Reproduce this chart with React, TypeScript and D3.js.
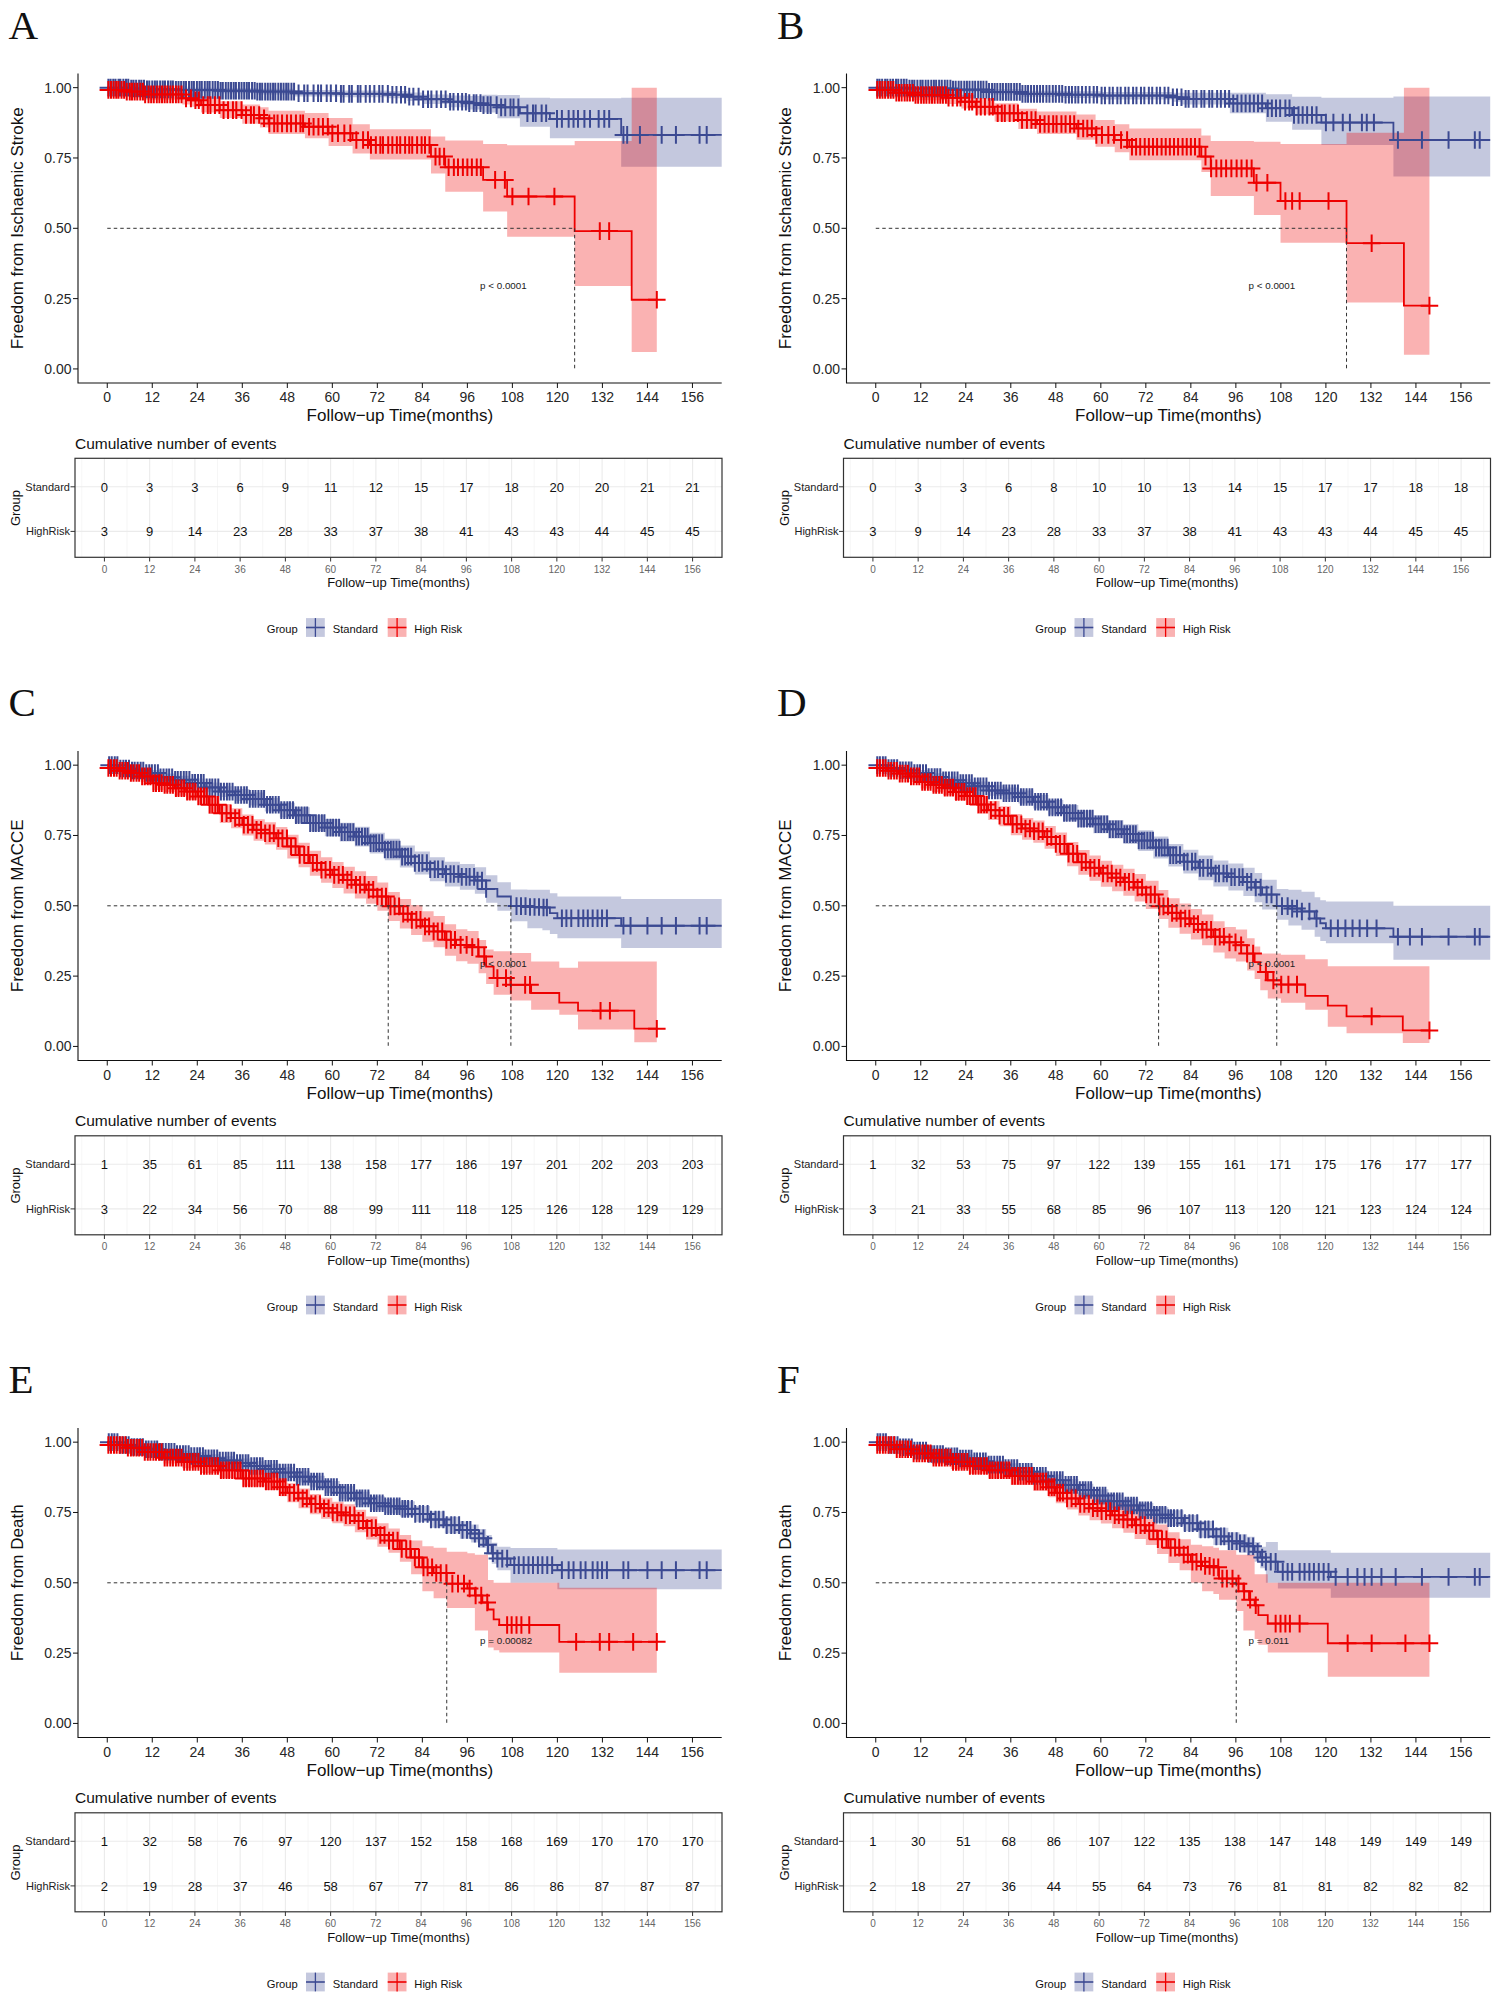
import * as d3 from 'd3';

const FONT = '"Liberation Sans", Arial, Helvetica, sans-serif';
const SERIF = '"Liberation Serif", "Times New Roman", serif';
const BLUE = '#3B4992';
const RED = '#EE0000';

const groupNames = ['Standard', 'High Risk'];
const tableRows = ['Standard', 'HighRisk'];
const xTicks = [0, 12, 24, 36, 48, 60, 72, 84, 96, 108, 120, 132, 144, 156];
const yTicks = [0, 0.25, 0.5, 0.75, 1];
const yTickLabels = ['0.00', '0.25', '0.50', '0.75', '1.00'];

// ---------- Panel A ----------
const aStdTime = [0, 6, 10, 18, 30, 40, 50, 62, 75, 80, 84, 91, 96, 100, 104, 110, 118, 137];
const aStdSurv = [1, 0.997, 0.994, 0.992, 0.989, 0.986, 0.98, 0.978, 0.975, 0.968, 0.959, 0.95, 0.945, 0.938, 0.93, 0.909, 0.889, 0.832];
const aStdLower = [1, 0.992, 0.987, 0.984, 0.98, 0.976, 0.969, 0.966, 0.962, 0.953, 0.942, 0.93, 0.922, 0.912, 0.891, 0.861, 0.82, 0.719];
const aStdUpper = [1, 1, 1, 1, 0.998, 0.996, 0.992, 0.99, 0.988, 0.983, 0.976, 0.972, 0.97, 0.975, 0.974, 0.964, 0.962, 0.964];
const aStdCensor = [0.3, 0.9, 1.6, 2.2, 3, 3.5, 4.3, 5, 5.6, 6.4, 7, 7.7, 8.5, 9.1, 9.8, 10.6, 11.2, 12, 12.7, 13.3, 14.1, 14.8, 15.4, 16.2, 16.9, 17.5, 18.3, 19, 19.7, 20.4, 21, 21.8, 22.5, 23.1, 23.9, 24.6, 25.2, 26, 26.7, 27.3, 28.1, 28.8, 29.5, 30.2, 30.8, 31.6, 32.3, 33, 33.7, 34.3, 35.1, 35.8, 36.5, 37.2, 37.8, 38.6, 39.3, 40, 40.7, 41.3, 42.1, 42.8, 43.5, 44.2, 44.8, 45.6, 46.3, 47, 47.7, 48.3, 49.1, 49.8, 51, 52.5, 53.4, 55, 56.2, 57, 58.5, 59.6, 61, 62.3, 63, 64.5, 65.2, 66.8, 67.5, 68.9, 70, 71.2, 72.5, 73.4, 74.8, 76, 77.1, 78.3, 79.4, 80.5, 81.6, 83, 84.2, 85.5, 86.4, 87.8, 89, 90.2, 91.4, 92.3, 93.5, 94.6, 95.6, 96.5, 97.7, 98.4, 99.5, 100.3, 101.4, 102.2, 103.8, 105, 106.1, 107.5, 108.3, 109.6, 112, 113.5, 114.2, 115.8, 117, 119.9, 121.2, 123, 124.3, 125.5, 127.2, 128.7, 131, 132.5, 133.8, 137.6, 138.6, 142, 147.8, 151.6, 157.9, 159.8];
const aHighTime = [0, 0.3, 4.6, 9.6, 20, 22.5, 25, 30, 36, 40.7, 43, 52.7, 59, 65.4, 70, 86.3, 90.1, 100.2, 106.6, 124.6, 139.8];
const aHighSurv = [1, 0.992, 0.986, 0.976, 0.962, 0.955, 0.938, 0.92, 0.903, 0.891, 0.873, 0.861, 0.838, 0.814, 0.796, 0.755, 0.717, 0.672, 0.613, 0.49, 0.246];
const aHighLower = [1, 0.978, 0.97, 0.957, 0.94, 0.932, 0.912, 0.892, 0.872, 0.858, 0.835, 0.82, 0.793, 0.766, 0.745, 0.695, 0.63, 0.56, 0.47, 0.295, 0.06];
const aHighUpper = [1, 1, 1, 0.995, 0.985, 0.98, 0.965, 0.952, 0.94, 0.93, 0.918, 0.91, 0.892, 0.87, 0.852, 0.826, 0.812, 0.8, 0.795, 0.81, 1];
const aHighCensor = [0.3, 1, 1.7, 2.4, 3, 3.8, 4.5, 5.2, 6, 6.6, 7.3, 8, 8.8, 9.5, 10.1, 11, 11.7, 12.4, 13.2, 13.9, 14.6, 15.3, 16, 16.8, 17.5, 18.3, 19, 19.8, 21, 22.3, 23.5, 24.4, 25.6, 26.8, 27.5, 28.7, 29.9, 31, 32.2, 33.5, 34.4, 35.8, 37, 38.3, 39.1, 40.5, 41.8, 43.2, 44.5, 45.4, 46.6, 47.9, 49, 50.3, 51.5, 52.2, 53.8, 55, 56.3, 57.5, 58.8, 60, 61.5, 63.2, 64.8, 66.4, 68.2, 69.5, 70.3, 71.6, 72.8, 73.5, 74.9, 76, 77.2, 78.1, 79.4, 80.5, 81.3, 82.6, 83.8, 84.7, 85.9, 87.5, 88.6, 89.8, 91, 92.4, 93.5, 94.8, 96, 97.2, 98.5, 99.6, 103.4, 106, 108, 112.3, 119.2, 131.3, 133.8, 146.5];
const aStdEvents = [0, 3, 3, 6, 9, 11, 12, 15, 17, 18, 20, 20, 21, 21];
const aHighEvents = [3, 9, 14, 23, 28, 33, 37, 38, 41, 43, 43, 44, 45, 45];

// ---------- Panel B ----------
const bStdTime = [0, 8.7, 20, 30, 39, 50, 60, 79, 81.6, 94.4, 104, 111, 118.8, 138];
const bStdSurv = [1, 0.997, 0.993, 0.985, 0.978, 0.975, 0.972, 0.966, 0.96, 0.944, 0.927, 0.903, 0.876, 0.814];
const bStdLower = [1, 0.992, 0.986, 0.976, 0.968, 0.963, 0.958, 0.95, 0.94, 0.909, 0.879, 0.85, 0.796, 0.684];
const bStdUpper = [1, 1, 0.999, 0.994, 0.989, 0.987, 0.985, 0.982, 0.982, 0.982, 0.977, 0.968, 0.964, 0.969];
const bStdCensor = [0.4, 1, 1.7, 2.5, 3.1, 3.9, 4.6, 5.4, 6, 6.8, 7.5, 8.2, 9, 9.7, 10.3, 11.1, 11.9, 12.5, 13.3, 14, 14.8, 15.5, 16.1, 16.9, 17.6, 18.4, 19.1, 19.9, 20.6, 21.3, 22.1, 22.8, 23.6, 24.3, 25, 25.8, 26.5, 27.3, 28, 28.7, 29.5, 30.2, 31, 31.7, 32.4, 33.2, 33.9, 34.7, 35.4, 36.1, 36.9, 37.6, 38.4, 39.1, 39.9, 40.6, 41.4, 42.2, 43, 43.8, 44.6, 45.5, 46.3, 47.2, 48, 48.9, 49.7, 50.6, 51.5, 52.3, 53.2, 54, 55, 56, 57, 58.1, 59, 60.2, 61.1, 62.3, 63.2, 64.4, 65.3, 66.5, 67.4, 68.6, 69.5, 70.7, 71.6, 72.8, 73.7, 74.9, 75.8, 77, 78, 79.2, 80.3, 81.5, 82.6, 83.4, 84.7, 85.5, 86.8, 87.6, 88.9, 89.7, 91, 92, 93.1, 94.2, 95.3, 96.4, 97.5, 98.6, 99.7, 100.8, 101.9, 103, 104.5, 105.6, 106.7, 107.8, 109.2, 110.3, 111.5, 112.7, 113.8, 115, 116.3, 117.5, 120, 122, 124.5, 126.4, 129.6, 130.9, 132.8, 139.2, 145.6, 152.7, 159.7, 161];
const bHighTime = [0, 0.4, 4.9, 10, 19, 22.8, 26.6, 31.7, 38, 43, 53.5, 58.6, 63.7, 67.6, 86.8, 89.3, 100.8, 107.9, 125.5, 140.8];
const bHighSurv = [1, 0.992, 0.982, 0.974, 0.964, 0.95, 0.932, 0.909, 0.885, 0.871, 0.855, 0.832, 0.814, 0.79, 0.755, 0.713, 0.662, 0.597, 0.447, 0.225];
const bHighLower = [1, 0.978, 0.965, 0.955, 0.942, 0.926, 0.905, 0.88, 0.853, 0.835, 0.815, 0.79, 0.77, 0.742, 0.7, 0.615, 0.547, 0.449, 0.236, 0.05];
const bHighUpper = [1, 1, 0.995, 0.99, 0.985, 0.975, 0.962, 0.945, 0.925, 0.915, 0.905, 0.885, 0.87, 0.855, 0.83, 0.81, 0.808, 0.8, 0.84, 1];
const bHighCensor = [0.4, 1.1, 1.8, 2.5, 3.3, 4, 4.7, 5.5, 6.2, 6.9, 7.7, 8.4, 9.1, 9.9, 10.6, 11.3, 12.1, 12.8, 13.5, 14.3, 15, 15.7, 16.5, 17.2, 17.9, 18.7, 19.4, 20.5, 21.7, 22.6, 23.8, 24.9, 25.7, 26.9, 28, 29.1, 30.3, 31.2, 32.5, 33.6, 34.4, 35.7, 36.8, 37.9, 39, 40.3, 41.5, 42.6, 43.8, 45, 46.1, 47.3, 48.2, 49.5, 50.6, 51.8, 52.9, 54, 55.3, 56.4, 57.6, 58.8, 60.3, 62, 63.5, 65.4, 67, 68.3, 69.4, 70.5, 71.7, 72.8, 73.9, 75, 76.2, 77.3, 78.4, 79.5, 80.6, 81.8, 82.9, 84, 85.1, 86.3, 87.9, 89.4, 90.8, 92.1, 93.4, 94.8, 96.2, 97.5, 98.9, 100.2, 101.5, 104.4, 109.2, 111, 113, 120.7, 132.2, 147.6];
const bStdEvents = [0, 3, 3, 6, 8, 10, 10, 13, 14, 15, 17, 17, 18, 18];
const bHighEvents = [3, 9, 14, 23, 28, 33, 37, 38, 41, 43, 43, 44, 45, 45];

// ---------- Panel C ----------
const cStdTime = [0, 3, 6, 10, 14, 18, 22, 26, 30, 34, 38, 42, 46, 50, 54, 58, 62, 66, 70, 74, 78, 82, 86, 90, 94, 98, 101, 104, 107.6, 112, 116, 118, 120, 137];
const cStdSurv = [1, 0.988, 0.981, 0.972, 0.957, 0.948, 0.937, 0.921, 0.906, 0.894, 0.88, 0.859, 0.84, 0.822, 0.794, 0.778, 0.762, 0.746, 0.723, 0.7, 0.675, 0.652, 0.63, 0.613, 0.603, 0.59, 0.56, 0.533, 0.499, 0.496, 0.494, 0.474, 0.456, 0.429];
const cStdLower = [1, 0.98, 0.972, 0.961, 0.944, 0.934, 0.921, 0.904, 0.887, 0.873, 0.857, 0.835, 0.814, 0.794, 0.765, 0.747, 0.729, 0.711, 0.686, 0.662, 0.636, 0.611, 0.587, 0.569, 0.557, 0.543, 0.511, 0.482, 0.445, 0.42, 0.413, 0.4, 0.385, 0.35];
const cStdUpper = [1, 0.996, 0.99, 0.983, 0.97, 0.962, 0.953, 0.938, 0.925, 0.915, 0.903, 0.883, 0.866, 0.85, 0.823, 0.809, 0.795, 0.781, 0.76, 0.738, 0.714, 0.693, 0.673, 0.657, 0.649, 0.637, 0.609, 0.584, 0.558, 0.557, 0.557, 0.545, 0.533, 0.524];
const cStdCensor = [0.5, 1.2, 2, 2.7, 3.5, 4.3, 5, 5.8, 6.6, 7.3, 8.1, 8.9, 9.6, 10.4, 11.2, 11.9, 12.7, 13.5, 14.2, 15, 15.8, 16.5, 17.3, 18.1, 18.8, 19.6, 20.4, 21.1, 21.9, 22.7, 23.4, 24.2, 25, 25.7, 26.5, 27.3, 28, 28.8, 29.6, 30.3, 31.1, 31.9, 32.6, 33.4, 34.2, 34.9, 35.7, 36.5, 37.2, 38, 38.8, 39.5, 40.3, 41.1, 41.8, 42.6, 43.4, 44.1, 44.9, 45.7, 46.4, 47.2, 48, 48.7, 49.5, 50.3, 51, 51.8, 52.6, 53.3, 54.1, 54.9, 55.6, 56.4, 57.2, 57.9, 58.7, 59.5, 60.2, 61, 61.8, 62.5, 63.3, 64.1, 64.8, 65.6, 66.4, 67.1, 67.9, 68.7, 69.4, 70.2, 71, 71.7, 72.5, 73.3, 74, 74.8, 75.6, 76.3, 77.1, 77.9, 78.6, 79.4, 80.2, 81, 82, 83.1, 84, 85.2, 86.1, 87.3, 88.2, 89.4, 90.3, 91.5, 92.4, 93.6, 94.5, 95.7, 96.6, 97.8, 98.7, 99.9, 101, 109.1, 110.3, 111.5, 112.7, 113.9, 115.1, 116.3, 117.2, 121.2, 122.4, 123.7, 125.6, 126.9, 128.1, 129.4, 130.7, 131.9, 133.2, 137.6, 139.5, 144, 147.8, 151.6, 157.9, 159.8];
const cHighTime = [0, 0.3, 3, 6, 9, 12, 15, 18, 21, 24, 27, 30, 33, 36, 39, 42, 45, 48, 51, 54, 57, 60, 63, 66, 69, 72, 74.9, 78, 81, 84, 87, 90, 93, 96, 99, 101, 103, 107.5, 113, 120.5, 125.5, 140.5];
const cHighSurv = [1, 0.99, 0.98, 0.972, 0.96, 0.936, 0.93, 0.918, 0.906, 0.889, 0.859, 0.829, 0.812, 0.788, 0.77, 0.758, 0.74, 0.711, 0.681, 0.652, 0.628, 0.61, 0.592, 0.575, 0.557, 0.533, 0.498, 0.472, 0.45, 0.427, 0.409, 0.379, 0.361, 0.353, 0.32, 0.284, 0.243, 0.219, 0.19, 0.156, 0.127, 0.063];
const cHighLower = [1, 0.978, 0.965, 0.955, 0.94, 0.912, 0.905, 0.891, 0.877, 0.858, 0.826, 0.794, 0.776, 0.75, 0.731, 0.718, 0.699, 0.668, 0.637, 0.607, 0.582, 0.563, 0.544, 0.526, 0.507, 0.482, 0.446, 0.419, 0.396, 0.372, 0.353, 0.322, 0.303, 0.294, 0.26, 0.222, 0.184, 0.163, 0.13, 0.113, 0.06, 0.015];
const cHighUpper = [1, 1, 0.993, 0.988, 0.979, 0.958, 0.953, 0.943, 0.933, 0.918, 0.89, 0.862, 0.847, 0.825, 0.808, 0.797, 0.78, 0.753, 0.724, 0.696, 0.673, 0.656, 0.639, 0.623, 0.606, 0.583, 0.549, 0.524, 0.503, 0.481, 0.464, 0.434, 0.417, 0.41, 0.378, 0.345, 0.338, 0.332, 0.302, 0.28, 0.302, 0.302];
const cHighCensor = [0.3, 1, 1.8, 2.5, 3.3, 4, 4.8, 5.5, 6.3, 7, 7.8, 8.5, 9.3, 10, 10.8, 11.5, 12.3, 13, 13.8, 14.5, 15.3, 16, 16.8, 17.5, 18.3, 19, 19.8, 20.5, 21.3, 22, 22.8, 23.5, 24.3, 25, 25.8, 26.5, 27.3, 28, 28.8, 29.5, 30.6, 31.8, 32.9, 34.1, 35.2, 36.4, 37.5, 38.7, 39.8, 41, 42.1, 43.3, 44.4, 45.6, 46.7, 47.9, 49, 50.2, 51.3, 52.5, 53.6, 54.8, 55.9, 57.1, 58.2, 59.4, 60.5, 61.7, 62.8, 64, 65.1, 66.3, 67.4, 68.6, 69.7, 70.9, 72, 73.2, 74.3, 75.5, 76.6, 77.8, 78.9, 80.1, 81.2, 82.4, 83.5, 84.7, 85.8, 87, 88.1, 89.3, 90.4, 91.6, 92.7, 94.2, 95.8, 97.3, 98.9, 100.5, 104, 106.3, 107.6, 111.4, 112.7, 131.5, 134, 146.5];
const cStdEvents = [1, 35, 61, 85, 111, 138, 158, 177, 186, 197, 201, 202, 203, 203];
const cHighEvents = [3, 22, 34, 56, 70, 88, 99, 111, 118, 125, 126, 128, 129, 129];

// ---------- Panel D ----------
const dStdTime = [0, 3, 6, 10, 14, 18, 22, 26, 30, 34, 38, 42, 46, 50, 54, 58, 62, 66, 70, 74, 78, 82, 86, 90, 94, 98, 101, 103, 106.9, 110, 113.5, 117, 118.5, 120, 138];
const dStdSurv = [1, 0.99, 0.982, 0.972, 0.958, 0.946, 0.936, 0.925, 0.91, 0.9, 0.887, 0.87, 0.85, 0.83, 0.81, 0.79, 0.772, 0.755, 0.732, 0.707, 0.68, 0.657, 0.635, 0.615, 0.602, 0.585, 0.565, 0.54, 0.499, 0.49, 0.48, 0.455, 0.438, 0.42, 0.39];
const dStdLower = [1, 0.982, 0.973, 0.961, 0.945, 0.932, 0.92, 0.908, 0.891, 0.879, 0.864, 0.846, 0.824, 0.802, 0.78, 0.758, 0.739, 0.72, 0.695, 0.668, 0.64, 0.615, 0.591, 0.569, 0.554, 0.535, 0.513, 0.487, 0.45, 0.43, 0.415, 0.39, 0.375, 0.367, 0.308];
const dStdUpper = [1, 0.997, 0.991, 0.983, 0.971, 0.96, 0.952, 0.942, 0.929, 0.921, 0.91, 0.894, 0.876, 0.858, 0.84, 0.822, 0.805, 0.79, 0.769, 0.746, 0.72, 0.699, 0.679, 0.661, 0.65, 0.635, 0.617, 0.593, 0.56, 0.557, 0.55, 0.53, 0.52, 0.515, 0.5];
const dStdCensor = [0.4, 1.1, 1.9, 2.6, 3.4, 4.2, 4.9, 5.7, 6.5, 7.2, 8, 8.8, 9.5, 10.3, 11.1, 11.8, 12.6, 13.4, 14.1, 14.9, 15.7, 16.4, 17.2, 18, 18.7, 19.5, 20.3, 21, 21.8, 22.6, 23.3, 24.1, 24.9, 25.6, 26.4, 27.2, 27.9, 28.7, 29.5, 30.2, 31, 31.8, 32.5, 33.3, 34.1, 34.8, 35.6, 36.4, 37.1, 37.9, 38.7, 39.4, 40.2, 41, 41.7, 42.5, 43.3, 44, 44.8, 45.6, 46.3, 47.1, 47.9, 48.6, 49.4, 50.2, 50.9, 51.7, 52.5, 53.2, 54, 54.8, 55.5, 56.3, 57.1, 57.8, 58.6, 59.4, 60.1, 60.9, 61.7, 62.4, 63.2, 64, 64.7, 65.5, 66.3, 67, 67.8, 68.6, 69.3, 70.1, 70.9, 71.6, 72.4, 73.2, 73.9, 74.7, 75.5, 76.2, 77, 77.8, 78.5, 79.3, 80.1, 81.1, 82.2, 83.1, 84.3, 85.2, 86.4, 87.3, 88.5, 89.4, 90.6, 91.5, 92.7, 93.6, 94.8, 95.7, 96.9, 97.8, 99, 100.1, 101.3, 102.6, 104.2, 105.5, 108.3, 109.8, 111, 112.3, 113.6, 115.6, 117.5, 121.3, 123.2, 125.2, 127.1, 129, 131, 133.5, 139.2, 142.4, 145.6, 152.7, 159.7, 161];
const dHighTime = [0, 0.3, 3, 6, 9, 12, 15, 18, 21, 24, 27, 30, 33, 36, 39, 42, 45, 48, 51, 54, 57, 60, 63, 66, 69, 72, 75.4, 78, 81, 84, 87, 90, 93, 96, 99, 101, 102.5, 104.5, 108, 114.5, 120.5, 125.5, 140.5];
const dHighSurv = [1, 0.99, 0.98, 0.97, 0.96, 0.94, 0.93, 0.92, 0.905, 0.89, 0.86, 0.84, 0.82, 0.79, 0.775, 0.765, 0.745, 0.72, 0.685, 0.655, 0.635, 0.615, 0.6, 0.585, 0.565, 0.54, 0.498, 0.475, 0.455, 0.435, 0.415, 0.39, 0.37, 0.36, 0.33, 0.3, 0.265, 0.235, 0.22, 0.18, 0.145, 0.107, 0.057];
const dHighLower = [1, 0.978, 0.965, 0.953, 0.94, 0.917, 0.905, 0.893, 0.876, 0.859, 0.827, 0.805, 0.783, 0.751, 0.735, 0.724, 0.703, 0.677, 0.641, 0.61, 0.589, 0.568, 0.552, 0.536, 0.515, 0.489, 0.453, 0.422, 0.401, 0.38, 0.36, 0.334, 0.313, 0.302, 0.27, 0.24, 0.2, 0.17, 0.155, 0.13, 0.07, 0.047, 0.012];
const dHighUpper = [1, 1, 0.993, 0.986, 0.978, 0.961, 0.953, 0.944, 0.932, 0.919, 0.891, 0.873, 0.854, 0.826, 0.812, 0.803, 0.784, 0.761, 0.727, 0.698, 0.679, 0.66, 0.646, 0.632, 0.613, 0.589, 0.556, 0.527, 0.508, 0.489, 0.469, 0.445, 0.425, 0.416, 0.385, 0.355, 0.33, 0.33, 0.326, 0.31, 0.285, 0.285, 0.285];
const dHighCensor = [0.4, 1.1, 1.9, 2.6, 3.4, 4.1, 4.9, 5.6, 6.4, 7.1, 7.9, 8.6, 9.4, 10.1, 10.9, 11.6, 12.4, 13.1, 13.9, 14.6, 15.4, 16.1, 16.9, 17.6, 18.4, 19.1, 19.9, 20.6, 21.4, 22.1, 22.9, 23.6, 24.4, 25.1, 25.9, 26.6, 27.4, 28.1, 28.9, 29.6, 30.7, 31.9, 33, 34.2, 35.3, 36.5, 37.6, 38.8, 39.9, 41.1, 42.2, 43.4, 44.5, 45.7, 46.8, 48, 49.1, 50.3, 51.4, 52.6, 53.7, 54.9, 56, 57.2, 58.3, 59.5, 60.6, 61.8, 62.9, 64.1, 65.2, 66.4, 67.5, 68.7, 69.8, 71, 72.1, 73.3, 74.4, 75.6, 76.7, 77.9, 79, 80.2, 81.3, 82.5, 83.6, 84.8, 85.9, 87.1, 88.2, 89.4, 90.5, 91.7, 92.8, 94.3, 95.9, 97.4, 99, 100.6, 104, 106, 108.1, 110, 112.3, 132.2, 147.6];
const dStdEvents = [1, 32, 53, 75, 97, 122, 139, 155, 161, 171, 175, 176, 177, 177];
const dHighEvents = [3, 21, 33, 55, 68, 85, 96, 107, 113, 120, 121, 123, 124, 124];

// ---------- Panel E ----------
const eStdTime = [0, 3, 6, 10, 14, 18, 22, 26, 30, 34, 38, 42, 46, 50, 54, 58, 62, 66, 70, 74, 78, 82, 86, 90, 94, 97, 99, 101, 102.5, 104, 107.5, 120];
const eStdSurv = [1, 0.99, 0.983, 0.975, 0.966, 0.958, 0.951, 0.943, 0.935, 0.926, 0.915, 0.905, 0.892, 0.877, 0.86, 0.84, 0.82, 0.8, 0.783, 0.772, 0.763, 0.745, 0.725, 0.705, 0.688, 0.675, 0.658, 0.635, 0.605, 0.586, 0.563, 0.545];
const eStdLower = [1, 0.982, 0.974, 0.965, 0.955, 0.946, 0.938, 0.929, 0.92, 0.91, 0.898, 0.887, 0.873, 0.857, 0.839, 0.818, 0.797, 0.776, 0.758, 0.746, 0.736, 0.717, 0.696, 0.675, 0.657, 0.643, 0.625, 0.6, 0.568, 0.545, 0.5, 0.477];
const eStdUpper = [1, 0.997, 0.991, 0.985, 0.977, 0.97, 0.964, 0.957, 0.95, 0.942, 0.932, 0.923, 0.911, 0.897, 0.881, 0.862, 0.843, 0.824, 0.808, 0.798, 0.79, 0.773, 0.754, 0.735, 0.719, 0.707, 0.691, 0.67, 0.642, 0.628, 0.624, 0.618];
const eStdCensor = [0.4, 1.2, 1.9, 2.7, 3.4, 4.2, 5, 5.7, 6.5, 7.2, 8, 8.8, 9.5, 10.3, 11, 11.8, 12.6, 13.3, 14.1, 14.8, 15.6, 16.4, 17.1, 17.9, 18.6, 19.4, 20.2, 20.9, 21.7, 22.4, 23.2, 24, 24.7, 25.5, 26.2, 27, 27.8, 28.5, 29.3, 30, 30.8, 31.6, 32.3, 33.1, 33.8, 34.6, 35.4, 36.1, 36.9, 37.6, 38.4, 39.2, 39.9, 40.7, 41.4, 42.2, 43, 43.7, 44.5, 45.2, 46, 46.8, 47.5, 48.3, 49, 49.8, 50.6, 51.3, 52.1, 52.8, 53.6, 54.4, 55.1, 55.9, 56.6, 57.4, 58.2, 58.9, 59.7, 60.4, 61.2, 62, 62.7, 63.5, 64.2, 65, 65.8, 66.5, 67.3, 68, 68.8, 69.6, 70.3, 71.1, 71.8, 72.6, 73.4, 74.1, 74.9, 75.6, 76.4, 77.2, 77.9, 78.7, 79.4, 80.2, 81.2, 82.1, 83.3, 84.2, 85.4, 86.3, 87.5, 88.4, 89.6, 90.5, 91.7, 92.6, 93.8, 94.7, 95.9, 96.8, 98, 99.1, 100.3, 101.5, 102.8, 104, 105.3, 106.6, 108.5, 109.7, 111, 112.3, 113.5, 114.8, 116, 117.3, 118.6, 121.2, 123, 124.3, 126.2, 127.5, 129.4, 130.7, 131.9, 133.2, 137.6, 138.9, 144, 147.8, 151.6, 157.9, 159.8];
const eHighTime = [0, 0.3, 5, 10, 15, 20, 25, 30, 36, 42, 46, 48, 51, 54, 57, 60, 63, 66, 69, 72, 75, 78, 81, 84, 87, 90.5, 96, 98, 100, 101.5, 103, 104.5, 120.5];
const eHighSurv = [1, 0.99, 0.98, 0.965, 0.945, 0.93, 0.915, 0.9, 0.871, 0.86, 0.84, 0.82, 0.8, 0.78, 0.765, 0.75, 0.74, 0.72, 0.695, 0.67, 0.65, 0.62, 0.59, 0.555, 0.535, 0.497, 0.48, 0.455, 0.43, 0.405, 0.37, 0.35, 0.29];
const eHighLower = [1, 0.975, 0.963, 0.946, 0.924, 0.907, 0.89, 0.873, 0.842, 0.83, 0.808, 0.786, 0.765, 0.744, 0.728, 0.712, 0.701, 0.68, 0.654, 0.628, 0.607, 0.575, 0.53, 0.47, 0.445, 0.41, 0.41, 0.33, 0.33, 0.27, 0.26, 0.252, 0.18];
const eHighUpper = [1, 1, 0.995, 0.984, 0.966, 0.953, 0.94, 0.927, 0.9, 0.89, 0.872, 0.854, 0.835, 0.816, 0.802, 0.788, 0.779, 0.76, 0.736, 0.712, 0.693, 0.67, 0.65, 0.63, 0.625, 0.61, 0.605, 0.6, 0.6, 0.51, 0.5, 0.5, 0.482];
const eHighCensor = [0.3, 1, 1.8, 2.5, 3.3, 4, 4.8, 5.5, 6.3, 7, 7.8, 8.5, 9.3, 10, 10.8, 11.5, 12.3, 13, 13.8, 14.5, 15.3, 16, 16.8, 17.5, 18.3, 19, 19.8, 20.5, 21.3, 22, 22.8, 23.5, 24.3, 25, 25.8, 26.5, 27.3, 28, 28.8, 29.5, 30.3, 31, 31.8, 32.5, 33.3, 34, 34.8, 35.5, 36.3, 37, 37.8, 38.5, 39.3, 40, 40.8, 41.5, 42.3, 43, 43.8, 44.5, 45.3, 46, 46.8, 47.5, 48.6, 49.8, 50.9, 52.1, 53.2, 54.4, 55.5, 56.7, 57.8, 59, 60.1, 61.3, 62.4, 63.6, 64.7, 65.9, 67, 68.2, 69.3, 70.5, 71.6, 72.8, 73.9, 75.1, 76.2, 77.4, 78.5, 79.7, 80.8, 82, 83.1, 84.3, 85.4, 86.6, 87.7, 88.9, 90.4, 92, 93.5, 95.1, 96.6, 98.2, 99.7, 101.3, 106.6, 107.8, 109.1, 110.4, 112.5, 125, 131.3, 133.8, 140.2, 146.5];
const eStdEvents = [1, 32, 58, 76, 97, 120, 137, 152, 158, 168, 169, 170, 170, 170];
const eHighEvents = [2, 19, 28, 37, 46, 58, 67, 77, 81, 86, 86, 87, 87, 87];

// ---------- Panel F ----------
const fStdTime = [0, 3, 6, 10, 14, 18, 22, 26, 30, 34, 38, 42, 46, 50, 54, 58, 62, 66, 70, 74, 78, 82, 86, 90, 94, 97, 99, 101, 102.5, 104, 107.2, 121.3];
const fStdSurv = [1, 0.99, 0.982, 0.97, 0.958, 0.95, 0.942, 0.932, 0.92, 0.908, 0.895, 0.88, 0.865, 0.848, 0.83, 0.81, 0.79, 0.775, 0.758, 0.742, 0.73, 0.712, 0.69, 0.665, 0.648, 0.64, 0.63, 0.61, 0.59, 0.575, 0.539, 0.521];
const fStdLower = [1, 0.982, 0.973, 0.959, 0.946, 0.937, 0.928, 0.917, 0.904, 0.891, 0.877, 0.861, 0.845, 0.827, 0.808, 0.787, 0.766, 0.75, 0.732, 0.715, 0.702, 0.683, 0.66, 0.634, 0.616, 0.607, 0.596, 0.575, 0.552, 0.5, 0.48, 0.447];
const fStdUpper = [1, 0.997, 0.991, 0.981, 0.97, 0.963, 0.956, 0.947, 0.936, 0.925, 0.913, 0.899, 0.885, 0.869, 0.852, 0.833, 0.814, 0.8, 0.784, 0.769, 0.758, 0.741, 0.72, 0.696, 0.68, 0.673, 0.664, 0.645, 0.628, 0.645, 0.616, 0.607];
const fStdCensor = [0.5, 1.2, 2, 2.7, 3.5, 4.2, 5, 5.8, 6.5, 7.3, 8, 8.8, 9.6, 10.3, 11.1, 11.8, 12.6, 13.4, 14.1, 14.9, 15.6, 16.4, 17.2, 17.9, 18.7, 19.4, 20.2, 21, 21.7, 22.5, 23.2, 24, 24.8, 25.5, 26.3, 27, 27.8, 28.6, 29.3, 30.1, 30.8, 31.6, 32.4, 33.1, 33.9, 34.6, 35.4, 36.2, 36.9, 37.7, 38.4, 39.2, 40, 40.7, 41.5, 42.2, 43, 43.8, 44.5, 45.3, 46, 46.8, 47.6, 48.3, 49.1, 49.8, 50.6, 51.4, 52.1, 52.9, 53.6, 54.4, 55.2, 55.9, 56.7, 57.4, 58.2, 59, 59.7, 60.5, 61.2, 62, 62.8, 63.5, 64.3, 65, 65.8, 66.6, 67.3, 68.1, 68.8, 69.6, 70.4, 71.1, 71.9, 72.6, 73.4, 74.2, 74.9, 75.7, 76.4, 77.2, 78, 78.7, 79.5, 80.4, 81.5, 82.4, 83.6, 84.5, 85.7, 86.6, 87.8, 88.7, 89.9, 90.8, 92, 92.9, 94.1, 95, 96.2, 97.1, 98.3, 99.4, 100.6, 101.8, 103, 104, 105.3, 106.6, 108.5, 109.8, 111, 113, 114.3, 115.6, 116.8, 118.1, 119.4, 120.7, 122.6, 125.8, 128.4, 130.3, 132.2, 134.8, 138.6, 145.6, 152.7, 159.7, 161];
const fHighTime = [0, 0.3, 5, 10, 15, 20, 25, 30, 36, 42, 46, 48, 51, 54, 57, 60, 63, 66, 69, 72, 75, 78, 81, 84, 87, 90, 91.5, 96.1, 98, 99.5, 101, 102, 104.5, 120.5];
const fHighSurv = [1, 0.99, 0.975, 0.96, 0.945, 0.93, 0.915, 0.9, 0.88, 0.86, 0.84, 0.82, 0.8, 0.78, 0.765, 0.755, 0.74, 0.725, 0.705, 0.685, 0.655, 0.625, 0.6, 0.575, 0.56, 0.555, 0.515, 0.497, 0.47, 0.44, 0.42, 0.385, 0.355, 0.285];
const fHighLower = [1, 0.975, 0.958, 0.94, 0.922, 0.905, 0.888, 0.871, 0.848, 0.826, 0.804, 0.783, 0.761, 0.739, 0.722, 0.711, 0.694, 0.678, 0.656, 0.634, 0.602, 0.57, 0.545, 0.5, 0.47, 0.46, 0.44, 0.4, 0.33, 0.33, 0.3, 0.28, 0.252, 0.166];
const fHighUpper = [1, 1, 0.99, 0.979, 0.966, 0.954, 0.941, 0.928, 0.911, 0.893, 0.875, 0.857, 0.838, 0.82, 0.806, 0.798, 0.784, 0.771, 0.753, 0.735, 0.707, 0.68, 0.655, 0.635, 0.63, 0.625, 0.616, 0.6, 0.6, 0.6, 0.53, 0.53, 0.5, 0.5];
const fHighCensor = [0.4, 1.1, 1.9, 2.6, 3.4, 4.1, 4.9, 5.6, 6.4, 7.1, 7.9, 8.6, 9.4, 10.1, 10.9, 11.6, 12.4, 13.1, 13.9, 14.6, 15.4, 16.1, 16.9, 17.6, 18.4, 19.1, 19.9, 20.6, 21.4, 22.1, 22.9, 23.6, 24.4, 25.1, 25.9, 26.6, 27.4, 28.1, 28.9, 29.6, 30.4, 31.1, 31.9, 32.6, 33.4, 34.1, 34.9, 35.6, 36.4, 37.1, 37.9, 38.6, 39.4, 40.1, 40.9, 41.6, 42.4, 43.1, 43.9, 44.6, 45.4, 46.1, 46.9, 47.6, 48.4, 49.1, 49.9, 51, 52.2, 53.3, 54.5, 55.6, 56.8, 57.9, 59.1, 60.2, 61.4, 62.5, 63.7, 64.8, 66, 67.1, 68.3, 69.4, 70.6, 71.7, 72.9, 74, 75.2, 76.3, 77.5, 78.6, 79.8, 80.9, 82.1, 83.2, 84.4, 85.5, 86.7, 87.8, 89, 90.1, 91.3, 92.4, 93.6, 95.1, 96.7, 98.2, 99.8, 101.3, 106.6, 107.9, 109.2, 110.4, 113, 125.8, 132.2, 141.2, 147.6];
const fStdEvents = [1, 30, 51, 68, 86, 107, 122, 135, 138, 147, 148, 149, 149, 149];
const fHighEvents = [2, 18, 27, 36, 44, 55, 64, 73, 76, 81, 81, 82, 82, 82];

const panelLetters = ['A', 'B', 'C', 'D', 'E', 'F'];
const yTitles = ['Freedom from Ischaemic Stroke', 'Freedom from Ischaemic Stroke', 'Freedom from MACCE', 'Freedom from MACCE', 'Freedom from Death', 'Freedom from Death'];
const pLabels = ['p < 0.0001', 'p < 0.0001', 'p < 0.0001', 'p < 0.0001', 'p = 0.00082', 'p = 0.011'];
const medianTimes = [[124.6], [125.5], [74.9, 107.6], [75.4, 106.9], [90.5], [96.1]];

type Curve = { t: number[]; s: number[]; lo: number[]; hi: number[]; cens: number[]; end: number };

function makeCurve(t: number[], s: number[], lo: number[], hi: number[], cens: number[], open: boolean): Curve {
  // open curves run past the right edge of the panel (clipped); closed ones stop at the last censor
  return { t, s, lo, hi, cens, end: open ? 175 : cens[cens.length - 1] };
}

const panelCurves: Curve[][] = [
  [makeCurve(aStdTime, aStdSurv, aStdLower, aStdUpper, aStdCensor, true), makeCurve(aHighTime, aHighSurv, aHighLower, aHighUpper, aHighCensor, false)],
  [makeCurve(bStdTime, bStdSurv, bStdLower, bStdUpper, bStdCensor, true), makeCurve(bHighTime, bHighSurv, bHighLower, bHighUpper, bHighCensor, false)],
  [makeCurve(cStdTime, cStdSurv, cStdLower, cStdUpper, cStdCensor, true), makeCurve(cHighTime, cHighSurv, cHighLower, cHighUpper, cHighCensor, false)],
  [makeCurve(dStdTime, dStdSurv, dStdLower, dStdUpper, dStdCensor, true), makeCurve(dHighTime, dHighSurv, dHighLower, dHighUpper, dHighCensor, false)],
  [makeCurve(eStdTime, eStdSurv, eStdLower, eStdUpper, eStdCensor, true), makeCurve(eHighTime, eHighSurv, eHighLower, eHighUpper, eHighCensor, false)],
  [makeCurve(fStdTime, fStdSurv, fStdLower, fStdUpper, fStdCensor, true), makeCurve(fHighTime, fHighSurv, fHighLower, fHighUpper, fHighCensor, false)],
];
const panelEvents = [
  [aStdEvents, aHighEvents], [bStdEvents, bHighEvents], [cStdEvents, cHighEvents],
  [dStdEvents, dHighEvents], [eStdEvents, eHighEvents], [fStdEvents, fHighEvents],
];

const colX = [0, 768.5];
const rowY = [0, 677.5, 1354.5];
const colors = [BLUE, RED];

// plot / table frame (panel-local pixels); x limits 0..156 with 5% expansion
const X_DOMAIN = [-7.8, 163.8];
const PL = 78, PR = 721.7, PT = 73.6, PB = 383;
const TL = 75, TR = 722, TT = 458.3, TB = 557.3;

function survAt(c: Curve, time: number) {
  const i = d3.bisectRight(c.t, time) - 1;
  return c.s[Math.max(0, i)];
}

function Panel({ idx }: { idx: number }) {
  const ox = colX[idx % 2];
  const oy = rowY[Math.floor(idx / 2)];
  const x = d3.scaleLinear().domain(X_DOMAIN).range([PL, PR]);
  const y = d3.scaleLinear().domain([-0.05, 1.05]).range([PB, PT]);
  const tx = d3.scaleLinear().domain(X_DOMAIN).range([TL, TR]);
  const ty = d3.scalePoint<string>().domain(tableRows).range([486.8, 531.4]);
  const curves = panelCurves[idx];
  const line = d3.line<[number, number]>().x(d => x(d[0])).y(d => y(d[1])).curve(d3.curveStepAfter);
  const area = d3.area<[number, number, number]>().x(d => x(d[0])).y0(d => y(d[1])).y1(d => y(d[2])).curve(d3.curveStepAfter);
  const clipId = `clip-${idx}`;
  const meds = medianTimes[idx];
  const medMax = d3.max(meds) as number;
  const grid = d3.range(-6, 163, 6);
  const half = 8.8;
  const midX = (PL + PR) / 2;
  const tMidX = (TL + TR) / 2;

  return (
    <g transform={`translate(${ox},${oy})`}>
      <text x={8.5} y={38.5} fontFamily={SERIF} fontSize={41} fill="#111">{panelLetters[idx]}</text>
      <defs>
        <clipPath id={clipId}>
          <rect x={PL} y={PT} width={PR - PL} height={PB - PT} />
        </clipPath>
      </defs>
      <g clipPath={`url(#${clipId})`}>
        {curves.map((c, gi) => {
          const pts: [number, number, number][] = c.t.map((t, i) => [t, c.lo[i], c.hi[i]]);
          pts.push([c.end, c.lo[c.lo.length - 1], c.hi[c.hi.length - 1]]);
          return <path key={`b${gi}`} d={area(pts) || ''} fill={colors[gi]} fillOpacity={0.3} stroke="none" />;
        })}
        {curves.map((c, gi) => {
          const pts: [number, number][] = c.t.map((t, i) => [t, c.s[i]]);
          pts.push([c.end, c.s[c.s.length - 1]]);
          const cens = c.cens.map(ct => {
            const cx = x(ct);
            const cy = y(survAt(c, ct));
            return `M${cx - half},${cy}H${cx + half}M${cx},${cy - half}V${cy + half}`;
          }).join('');
          return (
            <g key={`l${gi}`}>
              <path d={line(pts) || ''} fill="none" stroke={colors[gi]} strokeWidth={1.8} />
              <path d={cens} fill="none" stroke={colors[gi]} strokeWidth={2} />
            </g>
          );
        })}
        <path d={`M${x(0)},${y(0.5)}H${x(medMax)}`} stroke="#333" strokeWidth={1} strokeDasharray="3.5,3" fill="none" />
        {meds.map((m, i) => (
          <path key={i} d={`M${x(m)},${y(0.5)}V${y(0)}`} stroke="#333" strokeWidth={1} strokeDasharray="3.5,3" fill="none" />
        ))}
      </g>
      <text x={x(99.4)} y={y(0.295) + 3.5} fontFamily={FONT} fontSize={9.8} fill="#222">{pLabels[idx]}</text>

      {/* axes */}
      <path d={`M${PL},${PT}V${PB}H${PR}`} fill="none" stroke="#111" strokeWidth={1.1} />
      {xTicks.map(t => (
        <g key={`xt${t}`}>
          <line x1={x(t)} x2={x(t)} y1={PB} y2={PB + 5} stroke="#111" strokeWidth={1} />
          <text x={x(t)} y={402} textAnchor="middle" fontFamily={FONT} fontSize={14} fill="#262626">{t}</text>
        </g>
      ))}
      {yTicks.map((v, i) => (
        <g key={`yt${v}`}>
          <line x1={PL - 5} x2={PL} y1={y(v)} y2={y(v)} stroke="#111" strokeWidth={1} />
          <text x={PL - 6.5} y={y(v) + 5} textAnchor="end" fontFamily={FONT} fontSize={14} fill="#262626">{yTickLabels[i]}</text>
        </g>
      ))}
      <text x={midX} y={421} textAnchor="middle" fontFamily={FONT} fontSize={17} fill="#111">Follow−up Time(months)</text>
      <text x={22.6} y={228.3} transform={`rotate(-90,22.6,228.3)`} textAnchor="middle" fontFamily={FONT} fontSize={17} fill="#111">{yTitles[idx]}</text>

      {/* cumulative events table */}
      <text x={TL} y={448.5} fontFamily={FONT} fontSize={15.5} fill="#111">Cumulative number of events</text>
      <rect x={TL} y={TT} width={TR - TL} height={TB - TT} fill="#fff" stroke="none" />
      {grid.map(g => (
        <line key={`g${g}`} x1={tx(g)} x2={tx(g)} y1={TT} y2={TB} stroke={g % 12 === 0 ? '#EBEBEB' : '#F4F4F4'} strokeWidth={g % 12 === 0 ? 1.1 : 0.8} />
      ))}
      {tableRows.map(r => (
        <line key={`h${r}`} x1={TL} x2={TR} y1={ty(r)} y2={ty(r)} stroke="#EBEBEB" strokeWidth={1.1} />
      ))}
      <rect x={TL} y={TT} width={TR - TL} height={TB - TT} fill="none" stroke="#333" strokeWidth={1.2} />
      {tableRows.map((r, ri) => (
        <g key={`r${r}`}>
          <line x1={TL - 4.5} x2={TL} y1={ty(r)} y2={ty(r)} stroke="#333" strokeWidth={1} />
          <text x={TL - 5} y={(ty(r) as number) + 4} textAnchor="end" fontFamily={FONT} fontSize={11} fill="#222">{r}</text>
          {panelEvents[idx][ri].map((n, i) => (
            <text key={i} x={tx(xTicks[i])} y={(ty(r) as number) + 4.7} textAnchor="middle" fontFamily={FONT} fontSize={13} fill="#111">{n}</text>
          ))}
        </g>
      ))}
      <text x={20} y={508} transform="rotate(-90,20,508)" textAnchor="middle" fontFamily={FONT} fontSize={13} fill="#111">Group</text>
      {xTicks.map(t => (
        <g key={`tt${t}`}>
          <line x1={tx(t)} x2={tx(t)} y1={TB} y2={TB + 4.2} stroke="#333" strokeWidth={1} />
          <text x={tx(t)} y={572.6} textAnchor="middle" fontFamily={FONT} fontSize={10} fill="#666">{t}</text>
        </g>
      ))}
      <text x={tMidX} y={587} textAnchor="middle" fontFamily={FONT} fontSize={13} fill="#111">Follow−up Time(months)</text>

      {/* legend */}
      <text x={266.7} y={633} fontFamily={FONT} fontSize={11.2} fill="#111">Group</text>
      {groupNames.map((g, gi) => {
        const kx = gi === 0 ? 306 : 387.7;
        const lx = gi === 0 ? 332.7 : 414.3;
        const ks = 18.8;
        const ky = 627.5;
        return (
          <g key={`lg${g}`}>
            <rect x={kx} y={ky - ks / 2} width={ks} height={ks} fill={colors[gi]} fillOpacity={0.3} />
            <line x1={kx} x2={kx + ks} y1={ky} y2={ky} stroke={colors[gi]} strokeWidth={1.6} />
            <line x1={kx + ks / 2} x2={kx + ks / 2} y1={ky - ks / 2} y2={ky + ks / 2} stroke={colors[gi]} strokeWidth={1.3} />
            <text x={lx} y={633} fontFamily={FONT} fontSize={11.2} fill="#111">{g}</text>
          </g>
        );
      })}
    </g>
  );
}

export default function App() {
  return (
    <div style={{ position: 'absolute', left: 0, top: 0, background: '#fff' }}>
      <svg width={1501} height={1997} viewBox="0 0 1501 1997" style={{ display: 'block' }}>
        <rect x={0} y={0} width={1501} height={1997} fill="#fff" />
        {panelLetters.map((_, i) => <Panel key={i} idx={i} />)}
      </svg>
    </div>
  );
}
